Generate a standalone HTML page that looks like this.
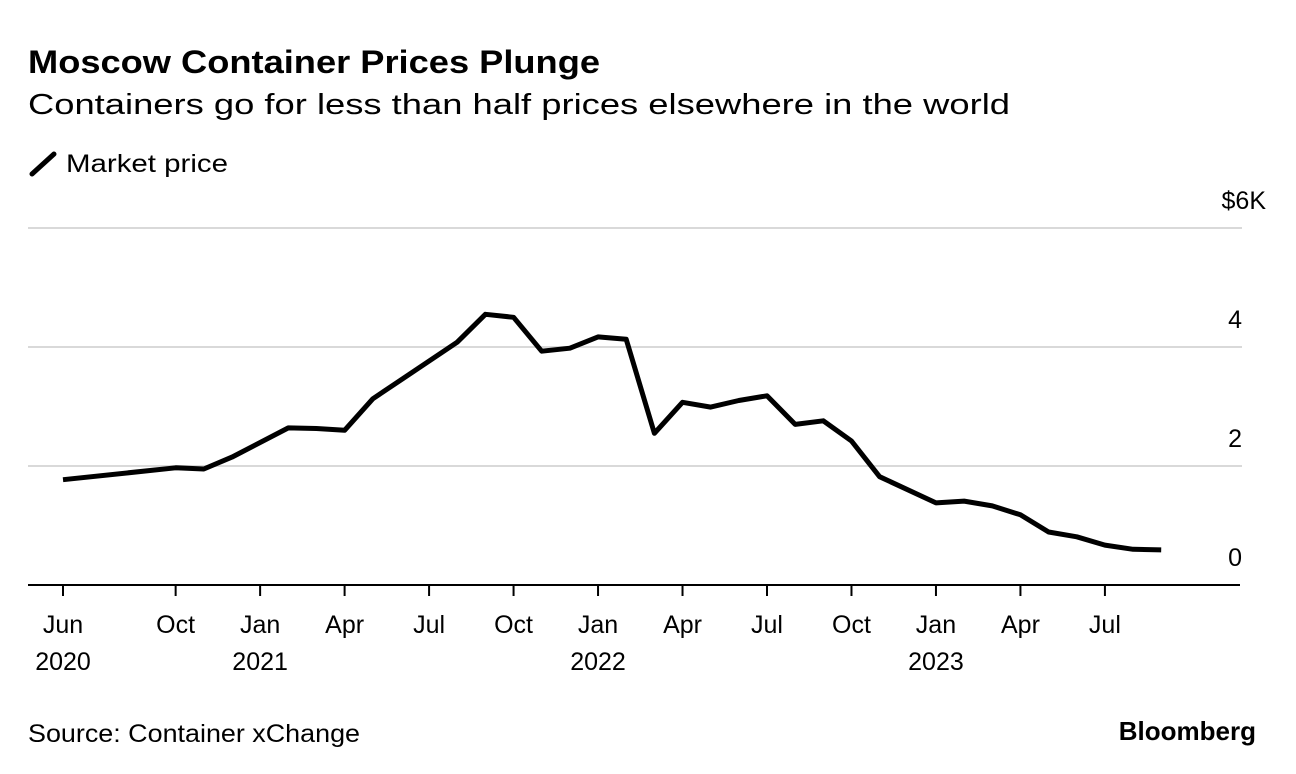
<!DOCTYPE html>
<html><head><meta charset="utf-8"><style>
body{margin:0;background:#fff;font-family:"Liberation Sans",Arial,sans-serif;color:#000}
svg{display:block}
</style></head><body>
<svg width="1296" height="774" id="c" font-family="Liberation Sans, Arial, sans-serif">
<text x="28" y="73" font-size="32" font-weight="bold" textLength="572" lengthAdjust="spacingAndGlyphs">Moscow Container Prices Plunge</text>
<text x="28" y="114" font-size="29" textLength="982" lengthAdjust="spacingAndGlyphs">Containers go for less than half prices elsewhere in the world</text>
<g>
<line x1="32" y1="174" x2="54" y2="154" stroke="#000" stroke-width="5" stroke-linecap="round"/>
<text x="66" y="172" font-size="25" textLength="162" lengthAdjust="spacingAndGlyphs">Market price</text>
</g>
<g id="grid"></g><g id="xaxis"></g><path id="line" fill="none" stroke="#000" stroke-width="5" stroke-linejoin="round"/>
<text x="28" y="742" font-size="25" textLength="332" lengthAdjust="spacingAndGlyphs">Source: Container xChange</text>
<text x="1256" y="740" font-size="26" font-weight="bold" text-anchor="end">Bloomberg</text>
</svg>
<script>
const months=[0,4,5,6,8,9,10,11,14,15,16,17,18,19,20,21,22,23,24,25,26,27,28,29,31,32,33,34,35,36,37,38,39];
const prices=[1.77,1.97,1.95,2.15,2.64,2.63,2.6,3.13,4.08,4.55,4.5,3.93,3.98,4.17,4.13,2.55,3.07,2.99,3.1,3.18,2.7,2.76,2.42,1.82,1.38,1.41,1.33,1.18,0.89,0.81,0.67,0.6,0.59];
const yTicks=[0,2,4,6];
const yTickLabels=["0","2","4","$6K"];
const xTicks=[0,4,7,10,13,16,19,22,25,28,31,34,37];
const xTickLabels=["Jun","Oct","Jan","Apr","Jul","Oct","Jan","Apr","Jul","Oct","Jan","Apr","Jul"];
const xYearLabels=["2020","","2021","","","","2022","","","","2023","",""];
const NS="http://www.w3.org/2000/svg";
const X=m=>63+m*28.16, Y=v=>585-v*59.5;
const g=document.getElementById('grid'), xa=document.getElementById('xaxis');
function mk(t,a,p){const e=document.createElementNS(NS,t);for(const k in a)e.setAttribute(k,a[k]);p.appendChild(e);return e;}
yTicks.forEach((v,i)=>{
 if(v>0){const l=mk('line',{x1:28,x2:1242,y1:Y(v),y2:Y(v),stroke:'#d9d9d9','stroke-width':2},g);
 
 }
 const t=mk('text',{x:(v===6?1266:1242),y:Y(v)-19,'font-size':25,'text-anchor':'end'},g);t.textContent=yTickLabels[i];
 
 
});
const ax=mk('line',{x1:28,x2:1240,y1:585,y2:585,stroke:'#000','stroke-width':2},xa);


xTicks.forEach((m,i)=>{
 const tk=mk('line',{x1:X(m),x2:X(m),y1:585,y2:596,stroke:'#000','stroke-width':2},xa);
 
 
 const t=mk('text',{x:X(m),y:633,'font-size':25,'text-anchor':'middle'},xa);t.textContent=xTickLabels[i];
 
 
 if(xYearLabels[i]){const y=mk('text',{x:X(m),y:670,'font-size':25,'text-anchor':'middle'},xa);y.textContent=xYearLabels[i];
 
 }
});
document.getElementById('line').setAttribute('d',months.map((m,i)=>(i?'L':'M')+X(m).toFixed(1)+','+Y(prices[i]).toFixed(1)).join(''));
</script>
</body></html>
